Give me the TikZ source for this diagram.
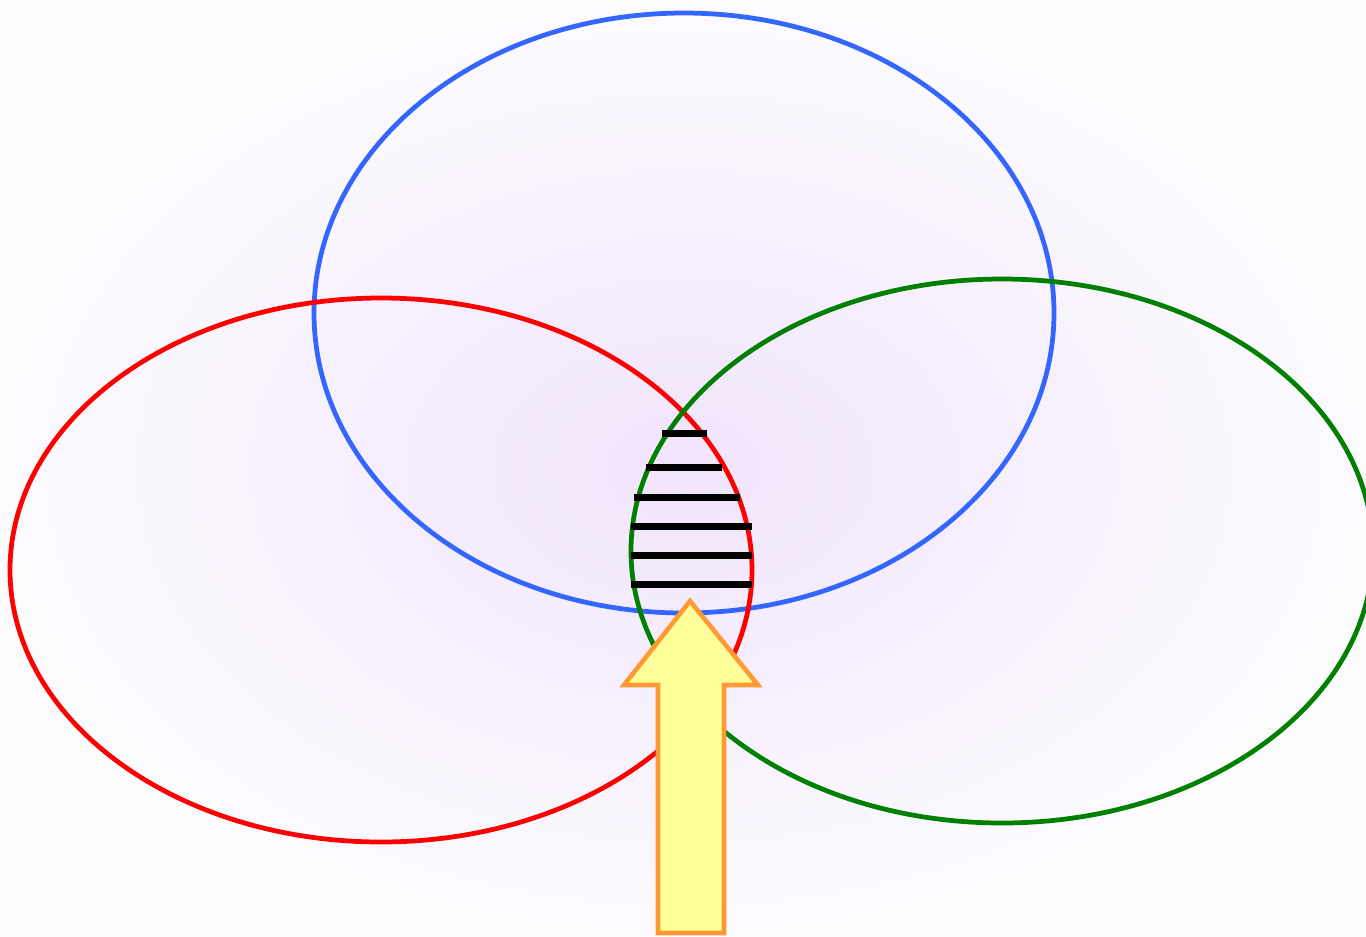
\documentclass[tikz,border=0pt]{standalone}
\usepackage{xcolor}
\usepackage{tikz}
\definecolor{cBlue}{HTML}{3366FF}
\definecolor{cRed}{HTML}{FF0000}
\definecolor{cGreen}{HTML}{008000}
\definecolor{cOrange}{HTML}{FF9933}
\definecolor{cYellow}{HTML}{FFFF99}
\definecolor{bgIn}{HTML}{F1E4FC}
\definecolor{bgOut}{HTML}{FCFBFE}

\begin{document}
\begin{tikzpicture}[
  x=0.1mm, y=-0.1mm,
  set/.style   = {line width=1.35pt},
  hatch/.style = {line width=2pt, black},
  up/.style    = {draw=cOrange, fill=cYellow, line width=1.3pt, line join=miter},
]
\useasboundingbox (0,0) rectangle (1366,936);
% soft background, darker round the middle
\shade[inner color=bgIn, outer color=bgOut] (0,0) rectangle (1366,936);

\draw[set, cBlue]  (684,313)  ellipse [x radius=37mm,   y radius=30mm];
\draw[set, cRed]   (381,570)  ellipse [x radius=37.1mm, y radius=27.2mm];
\draw[set, cGreen] (1002,551) ellipse [x radius=37.1mm, y radius=27.2mm];

% lines across the red/green overlap
\foreach \y/\a/\b in {433/662/707, 467/646/722, 497/634/740,
                      526/631/752, 555/631/752, 584/631/752}
  \draw[hatch] (\a,\y) -- (\b,\y);

\draw[up] (690,601) -- (758,685) -- (724,685) -- (724,933)
       -- (658,933) -- (658,685) -- (624,685) -- cycle;
\end{tikzpicture}
\end{document}
